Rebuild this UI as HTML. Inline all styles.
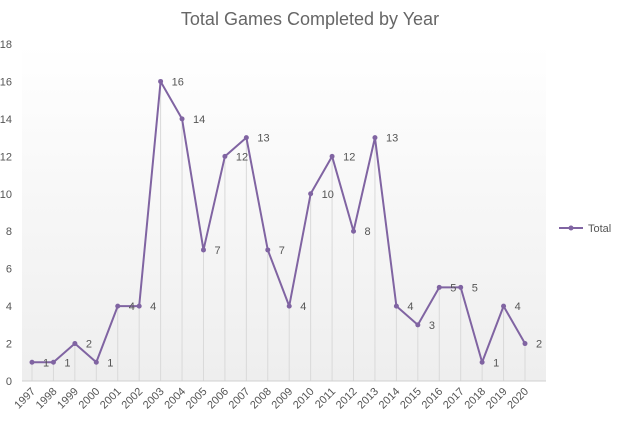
<!DOCTYPE html>
<html><head><meta charset="utf-8"><style>
body{margin:0;background:#fff;font-family:"Liberation Sans",sans-serif}
text{font-family:"Liberation Sans",sans-serif}
</style></head><body>
<svg width="620" height="421">
<defs><linearGradient id="bg" x1="0" y1="0" x2="0" y2="1"><stop offset="0" stop-color="#fff"/><stop offset="1" stop-color="#eeeeee"/></linearGradient></defs>
<rect x="22" y="44" width="524" height="337" fill="url(#bg)"/>
<text x="310" y="25" text-anchor="middle" font-size="18" fill="#666">Total Games Completed by Year</text>
<g id="g"></g>
<line x1="22" y1="381" x2="546" y2="381" stroke="#d0d0d0"/>
<g><line x1="559" y1="228" x2="583" y2="228" stroke="#8064a2" stroke-width="2"/><circle cx="571" cy="228" r="2.5" fill="#8064a2"/><text x="588" y="232" font-size="11" fill="#555">Total</text></g>
</svg>
<script>
const years=["1997","1998","1999","2000","2001","2002","2003","2004","2005","2006","2007","2008","2009","2010","2011","2012","2013","2014","2015","2016","2017","2018","2019","2020"];
const totals=[1,1,2,1,4,4,16,14,7,12,13,7,4,10,12,8,13,4,3,5,5,1,4,2];
const yTicks=[0,2,4,6,8,10,12,14,16,18];
const NS="http://www.w3.org/2000/svg",g=document.getElementById('g');
const X=i=>32+i*(493/(years.length-1)), Y=v=>381-v*(337/18);
function mk(t,a,p){const e=document.createElementNS(NS,t);for(const k in a)e.setAttribute(k,a[k]);(p||g).appendChild(e);return e;}
yTicks.forEach(v=>{const t=mk('text',{x:12,y:Y(v)+4,'text-anchor':'end','font-size':11,fill:'#555'});t.textContent=v;

});
years.forEach((y,i)=>{const l=mk('line',{x1:X(i),y1:Y(totals[i]),x2:X(i),y2:381,stroke:'#d9d9d9'});


const t=mk('text',{x:X(i)+4,y:392,'text-anchor':'end','font-size':11,fill:'#555',transform:`rotate(-45 ${X(i)+4} 392)`});t.textContent=y;

});
const p=mk('polyline',{points:totals.map((v,i)=>X(i)+','+Y(v)).join(' '),fill:'none',stroke:'#8064a2','stroke-width':2,'stroke-linejoin':'round'});


totals.forEach((v,i)=>{const c=mk('circle',{cx:X(i),cy:Y(v),r:2.5,fill:'#8064a2'});


const t=mk('text',{x:X(i)+11,y:Y(v)+4,'font-size':11,fill:'#555'});t.textContent=v;

});
</script>
</body></html>
